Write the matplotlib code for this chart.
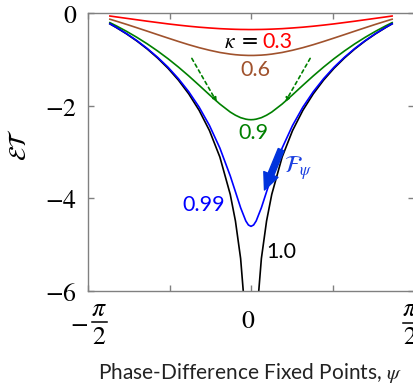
import numpy as np
import matplotlib
matplotlib.use("Agg")
import matplotlib.pyplot as plt
from matplotlib.lines import Line2D

plt.rcParams['mathtext.fontset'] = 'stix'
plt.rcParams['font.family'] = ['Lato', 'DejaVu Sans']

# phase-difference fixed points
psi = [-1.36, -1.3, -1.2, -1.1, -1.0, -0.9, -0.8, -0.7, -0.6, -0.5, -0.4, -0.3, -0.2,
       -0.15, -0.1, -0.05, -0.025, 0.0, 0.025, 0.05, 0.1, 0.15,
       0.2, 0.3, 0.4, 0.5, 0.6, 0.7, 0.8, 0.9, 1.0, 1.1, 1.2, 1.3, 1.36]

et_03 = [-0.065, -0.084, -0.115, -0.146, -0.177, -0.206, -0.235, -0.261, -0.285, -0.306, -0.323, -0.338, -0.348,
         -0.352, -0.355, -0.356, -0.357, -0.357, -0.357, -0.356, -0.355, -0.352,
         -0.348, -0.338, -0.323, -0.306, -0.285, -0.261, -0.235, -0.206, -0.177, -0.146, -0.115, -0.084, -0.065]
et_06 = [-0.134, -0.175, -0.245, -0.318, -0.392, -0.467, -0.541, -0.614, -0.684, -0.748, -0.804, -0.852, -0.887,
         -0.900, -0.909, -0.914, -0.916, -0.916, -0.916, -0.914, -0.909, -0.900,
         -0.887, -0.852, -0.804, -0.748, -0.684, -0.614, -0.541, -0.467, -0.392, -0.318, -0.245, -0.175, -0.134]
et_09 = [-0.208, -0.275, -0.395, -0.525, -0.666, -0.820, -0.986, -1.166, -1.358, -1.560, -1.766, -1.965, -2.138,
         -2.206, -2.259, -2.291, -2.300, -2.303, -2.300, -2.291, -2.259, -2.206,
         -2.138, -1.965, -1.766, -1.560, -1.358, -1.166, -0.986, -0.820, -0.666, -0.525, -0.395, -0.275, -0.208]
et_099 = [-0.232, -0.308, -0.444, -0.596, -0.766, -0.956, -1.170, -1.416, -1.699, -2.031, -2.429, -2.915, -3.515,
          -3.858, -4.203, -4.488, -4.575, -4.605, -4.575, -4.488, -4.203, -3.858,
          -3.515, -2.915, -2.429, -2.031, -1.699, -1.416, -1.170, -0.956, -0.766, -0.596, -0.444, -0.308, -0.232]
et_10 = [-0.234, -0.311, -0.450, -0.604, -0.777, -0.972, -1.193, -1.447, -1.745, -2.100, -2.539, -3.109, -3.915,
         -4.489, -5.299, -6.685, -8.07, np.nan, -8.07, -6.685, -5.299, -4.489,
         -3.915, -3.109, -2.539, -2.100, -1.745, -1.447, -1.193, -0.972, -0.777, -0.604, -0.450, -0.311, -0.234]

# dashed approximations to the 0.9 curve
dash_psi_l = [-0.57, -0.33]
dash_psi_r = [0.57, 0.33]
dash_et = [-0.98, -1.92]

W, H = 413, 390
fig = plt.figure(figsize=(W/100, H/100), dpi=100)
ax = fig.add_axes([88/W, 99/H, 326/W, 278/H])

lw = 1.2
ax.plot(psi, et_03, color='#ff0000', lw=lw)
ax.plot(psi, et_06, color='#a0522d', lw=lw)
ax.plot(psi, et_09, color='#008000', lw=lw)
ax.plot(psi, et_10, color='black', lw=lw)
ax.plot(psi, et_099, color='#0000ff', lw=lw)

for dp in (dash_psi_l, dash_psi_r):
    ax.annotate('', xy=(dp[1], dash_et[1]), xytext=(dp[0], dash_et[0]),
                arrowprops=dict(arrowstyle='-|>', color='#008000', lw=1.2,
                                linestyle=(0, (2, 2)), mutation_scale=6,
                                shrinkA=0, shrinkB=0))

# flow arrow
ax.annotate('', xy=(0.13, -3.82), xytext=(0.29, -2.95),
            arrowprops=dict(arrowstyle='simple,head_width=1.0,head_length=1.1,tail_width=0.4',
                            color='#0033dd', mutation_scale=11, shrinkA=0, shrinkB=0))
ax.text(0.32, -3.35, r'$\mathcal{F}_{\psi}$', color='#1a3fe0', fontsize=17,
        ha='left', va='center')

# curve labels
fs = 15.5
ax.text(0.065, -0.63, r'$\kappa$ =', color='black', fontsize=fs, ha='right', va='center',
        family=['DejaVu Serif'])
ax.text(0.11, -0.63, '0.3', color='#ff0000', fontsize=fs, ha='left', va='center')
ax.text(0.04, -1.23, '0.6', color='#a0522d', fontsize=fs, ha='center', va='center')
ax.text(0.025, -2.59, '0.9', color='#008000', fontsize=fs, ha='center', va='center')
ax.text(-0.46, -4.14, '0.99', color='#0000ff', fontsize=fs, ha='center', va='center')
ax.text(0.29, -5.16, '1.0', color='black', fontsize=fs, ha='center', va='center')

ax.set_xlim(-np.pi/2, np.pi/2)
ax.set_ylim(-6, 0)
ax.set_xticks([-np.pi/2, -np.pi/4, 0, np.pi/4, np.pi/2])
ax.set_xticklabels([])
ax.set_yticks([0, -2, -4, -6])
ax.set_yticklabels([r'$0$', r'$-2$', r'$-4$', r'$-6$'], fontsize=18.5)
ax.tick_params(direction='in', length=4, width=1, color='#808080', top=True, right=True)
ax.tick_params(axis='y', pad=8)
for s in ax.spines.values():
    s.set_color('#808080')
    s.set_linewidth(1.0)


def px(x, y):
    return x / W, 1 - y / H


def frac_label(xc, ybar, minus=False):
    # pi over 2, stacked at full size
    fig.text(*px(xc, ybar - 14), r'$\pi$', fontsize=18.5, ha='center', va='center')
    fig.text(*px(xc, ybar + 14), r'$2$', fontsize=18.5, ha='center', va='center')
    x0, y0 = px(xc - 7.5, ybar)
    x1, _ = px(xc + 7.5, ybar)
    fig.add_artist(Line2D([x0, x1], [y0, y0], transform=fig.transFigure,
                          color='black', lw=1.1))
    if minus:
        fig.text(*px(xc - 20, ybar), r'$-$', fontsize=18.5, ha='center', va='center')


frac_label(99, 322, minus=True)
frac_label(410, 323)
fig.text(*px(248, 321), r'$0$', fontsize=18.5, ha='center', va='center')

fig.text(*px(19, 145), r'$\mathcal{E}\mathcal{T}$', rotation=90,
         fontsize=17, ha='center', va='center')
fig.text(*px(250, 373), r'Phase-Difference Fixed Points, $\psi$',
         fontsize=15, ha='center', va='center', color='#222222')

fig.savefig('out.png', dpi=100)
